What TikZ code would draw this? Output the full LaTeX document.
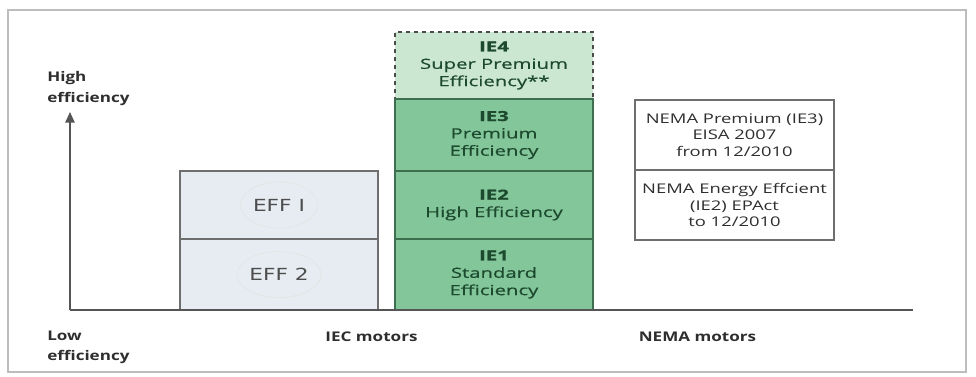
\documentclass[tikz,border=0pt]{standalone}
\usepackage{fontspec}
\setmainfont{Open Sans}
\newfontfamily\lblfont[FakeStretch=1.28]{Open Sans}
\newfontfamily\iefont[FakeStretch=1.45,FakeBold=0.6]{Open Sans}
\newfontfamily\nemafont[FakeStretch=1.38]{Open Sans}
\newfontfamily\efffont[FakeStretch=1.3]{DejaVu Sans}
\usetikzlibrary{shapes.geometric,arrows.meta}
\definecolor{frame}{HTML}{BDBDBD}
\definecolor{axis}{HTML}{555555}
\definecolor{txt}{HTML}{2E2E2E}
\definecolor{efffill}{HTML}{E6ECF2}
\definecolor{effline}{HTML}{6E6E6E}
\definecolor{iefill}{HTML}{82C69A}
\definecolor{ielight}{HTML}{CBE7D2}
\definecolor{ieline}{HTML}{3D6E4E}
\definecolor{ietxt}{HTML}{1D4A2E}
\begin{document}
\begin{tikzpicture}[x=0.75pt,y=-0.75pt,
  lbl/.style={font=\lblfont\fontsize{10}{12}\selectfont\bfseries, text=txt, inner sep=0pt},
  effbox/.style={draw=effline, line width=1.2pt, fill=efffill, minimum width=198*0.75pt, inner sep=0pt},
  iebox/.style={draw=ieline, line width=1.2pt, fill=iefill, minimum width=198*0.75pt, inner sep=0pt, align=center, text=ietxt, font=\iefont\fontsize{10.5}{13}\selectfont},
  nemabox/.style={draw=effline, line width=1pt, fill=white, minimum width=199*0.75pt, inner sep=0pt, align=center, text=txt, font=\nemafont\fontsize{10}{12.4}\selectfont},
  effoval/.style={ellipse, draw=black!10, line width=0.6pt, minimum width=77*0.75pt, minimum height=46*0.75pt, inner sep=0pt, text=txt!85, font=\efffont\fontsize{12.5}{14}\selectfont}
]
\useasboundingbox (0,0) rectangle (976,376);
\fill[white] (0,0) rectangle (976,376);
\node[draw=frame, line width=1.5pt, minimum width=958*0.75pt, minimum height=362*0.75pt, inner sep=0pt] (frm) at (487,191) {};
% IEC EFF boxes
\node[effbox, minimum height=68*0.75pt] (eff1) at (279,205) {};
\node[effbox, minimum height=71*0.75pt] (eff2) at (279,274.5) {};
\node[effoval] (eff1t) at (eff1.center) {EFF I};
\node[effoval] (eff2t) at (eff2.center) {EFF 2};
% IE column
\node[iebox, fill=ielight, dashed, draw=black!70, minimum height=67*0.75pt] (ie4) at (494,65.5) {\textbf{IE4}\\Super Premium\\Efficiency**};
\node[iebox, minimum height=72*0.75pt] (ie3) at (494,135) {\textbf{IE3}\\Premium\\Efficiency};
\node[iebox, minimum height=68*0.75pt] (ie2) at (494,205) {\textbf{IE2}\\High Efficiency};
\node[iebox, minimum height=71*0.75pt] (ie1) at (494,274.5) {\textbf{IE1}\\Standard\\Efficiency};
% NEMA
\node[nemabox, minimum height=70*0.75pt] (nema1) at (734.5,135) {NEMA Premium (IE3)\\EISA 2007\\from 12/2010};
\node[nemabox, minimum height=70*0.75pt] (nema2) at (734.5,205) {NEMA Energy Effcient\\(IE2) EPAct\\to 12/2010};
% axes
\coordinate (orig) at (70,310);
\coordinate (ytip) at (70,112);
\coordinate (xend) at (913,310);
\draw[axis, line width=1.3pt, -{Triangle[length=8pt,width=7pt]}] (orig) -- (ytip);
\draw[axis, line width=1.3pt] (orig) -- (xend);
% labels
\node[lbl, anchor=west, align=left, font=\lblfont\fontsize{10}{15.5}\selectfont\bfseries] (hi) at (47,88.5) {High\\efficiency};
\node[lbl, anchor=west, align=left, font=\lblfont\fontsize{10}{15.5}\selectfont\bfseries] (lo) at (47,347.5) {Low\\efficiency};
\node[lbl] (iec) at (371.5,337) {IEC motors};
\node[lbl] (nema) at (697.5,337) {NEMA motors};
\end{tikzpicture}
\end{document}
